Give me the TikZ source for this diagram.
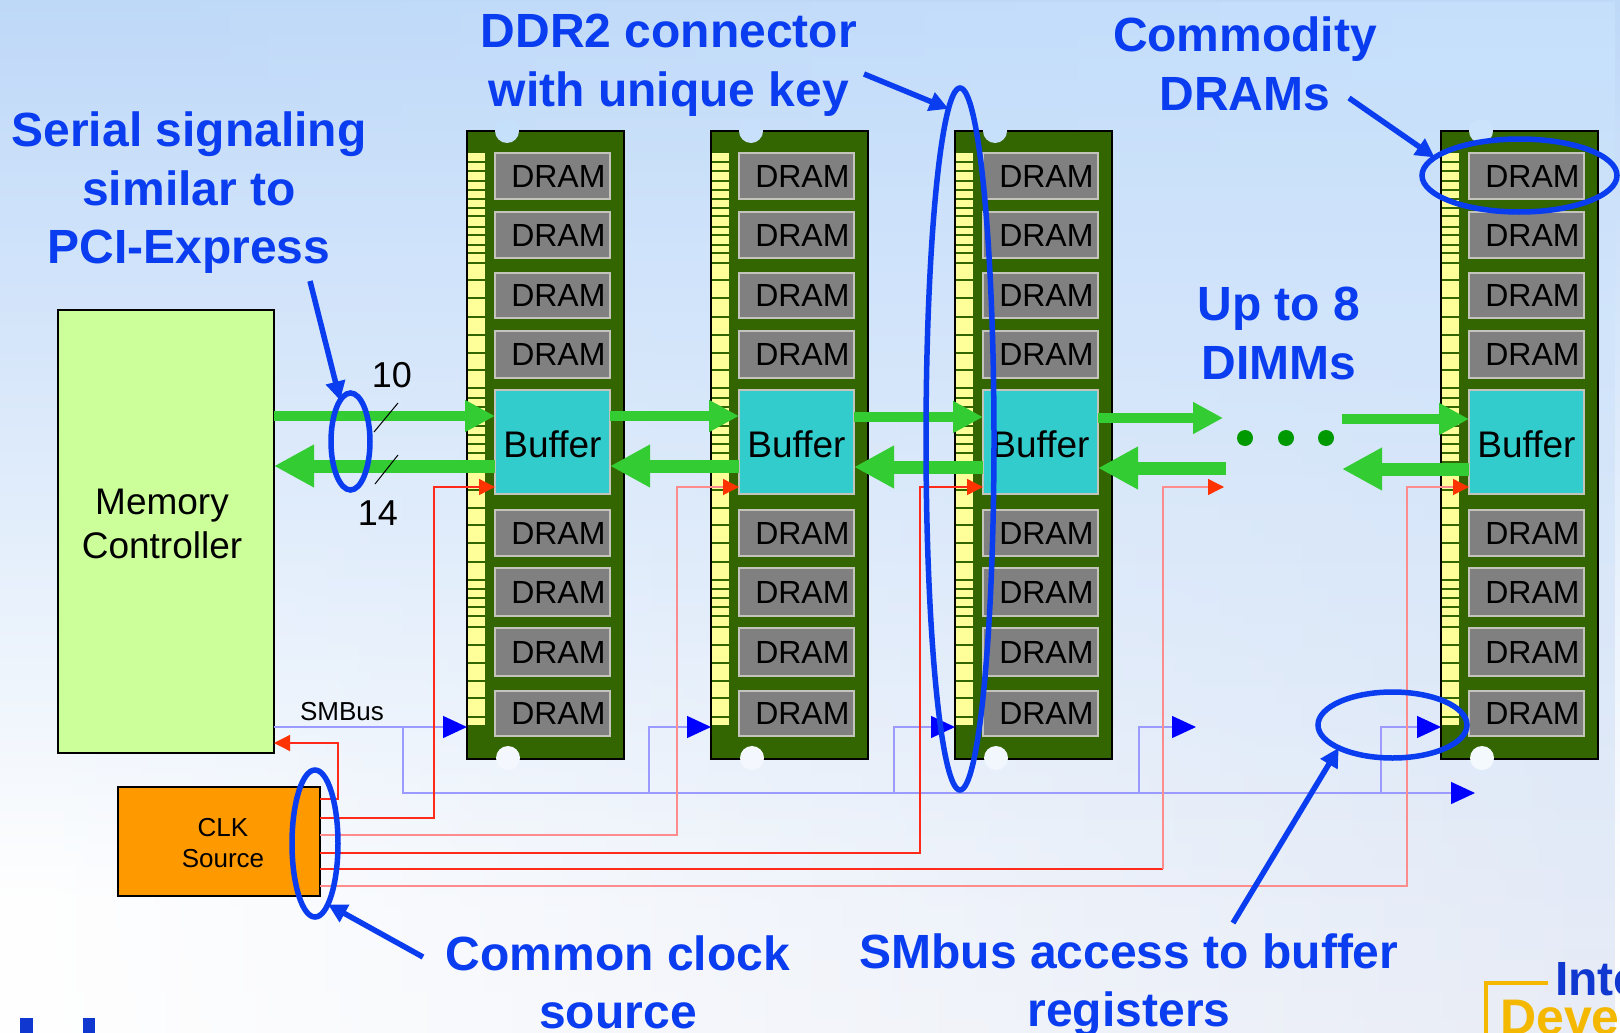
\documentclass[tikz,border=0pt]{standalone}
\usepackage{fontspec}
\setmainfont{Liberation Sans}
\usetikzlibrary{arrows.meta,shapes.geometric,fadings}
\definecolor{callout}{HTML}{0A3CF0}
\definecolor{pcb}{HTML}{336600}
\definecolor{pinyellow}{HTML}{FFFF99}
\definecolor{dramgrey}{HTML}{808080}
\definecolor{dramedge}{HTML}{C4C4BC}
\definecolor{buffteal}{HTML}{33CCCC}
\definecolor{mcgreen}{HTML}{CCFF99}
\definecolor{clkorange}{HTML}{FF9900}
\definecolor{linkgreen}{HTML}{33CC33}
\definecolor{dotgreen}{HTML}{009900}
\definecolor{clkred}{HTML}{FF2A1A}
\definecolor{clkpink}{HTML}{FF8C8C}
\definecolor{smblue}{HTML}{9A9AFF}
\definecolor{smhead}{HTML}{0000FF}
\definecolor{tiporange}{HTML}{FF3300}
\definecolor{logogold}{HTML}{F5B800}
\definecolor{logoblue}{HTML}{1038D0}
\tikzset{
  x=1pt,y=-1pt,
  calltext/.style={text=callout,font=\fontsize{48}{58.5}\bfseries\selectfont,align=center,inner sep=0pt},
  plain/.style={text=black,align=center,inner sep=0pt},
  boxn/.style={draw,anchor=north west,inner sep=0pt,outer sep=0pt},
  dimm/.style={boxn,draw=black,line width=1.2pt,fill=pcb,minimum width=157pt,minimum height=628pt},
  dram/.style={boxn,draw=dramedge,line width=1.2pt,fill=dramgrey,minimum width=115pt,text=black,font=\fontsize{32}{32}\selectfont,text width=106pt,align=right},
  buff/.style={boxn,draw=dramedge,line width=1.2pt,fill=buffteal,minimum width=115pt,minimum height=104pt,text=black,font=\fontsize{37}{37}\selectfont,align=center},
  ring/.style={ellipse,draw=callout,line width=5.5pt,inner sep=0pt,outer sep=0pt,fill=none},
  pointer/.style={draw=callout,line width=5.5pt,-{Triangle[length=19pt,width=19pt]}},
  upa/.style={draw=linkgreen,line width=10pt,-{Triangle[length=30pt,width=30pt]}},
  downa/.style={draw=linkgreen,line width=13pt,-{Triangle[length=40pt,width=40pt]}},
  clka/.style={line width=1.3pt,-{Triangle[length=16pt,width=16pt,color=tiporange]}},
  sma/.style={draw=smblue,line width=1.4pt,-{Triangle[length=24pt,width=22pt,color=smhead]}},
  notch/.style={circle,minimum size=24pt,inner sep=0pt,draw=none},
  slash/.style={draw=black,line width=1pt},
}
\begin{document}
\begin{tikzpicture}
\useasboundingbox (0,0) rectangle (1620,1033);
\begin{scope}
\clip (0,0) rectangle (1620,1033);
% background
\fill[white] (0,0) rectangle (1620,1033);
\shade[top color={rgb,255:red,190;green,216;blue,248},bottom color=white] (0,0) rectangle (1620,900);
\shade[top color={rgb,255:red,198;green,224;blue,252},bottom color={rgb,255:red,232;green,236;blue,246},path fading=west] (0,0) rectangle (1620,1033);

% logo fragments
\fill[logoblue] (20,1018) rectangle (33,1033);
\fill[logoblue] (83,1018) rectangle (95,1033);
\draw[logogold,line width=3.5pt] (1486,1033) -- (1486,983) -- (1548,983);
\node[anchor=base west,inner sep=0pt,text=logoblue,font=\fontsize{48}{48}\bfseries\selectfont] (logoa) at (1555,995) {Inte};
\node[anchor=base west,inner sep=0pt,text=logogold,font=\fontsize{50}{50}\bfseries\selectfont] (logob) at (1500,1034) {Deve};

% memory modules
\foreach \m/\x/\nt/\nb in {1/467/C5E0FB/F4F8FE,2/711/C8E0FB/F4F8FE,3/955/C6E0FC/F2F6FD,4/1441/CBE3FB/F4F9FD}{
  \node[dimm] (m\m) at (\x,131) {};
  \definecolor{nt}{HTML}{\nt}\definecolor{nb}{HTML}{\nb}
  \node[notch,fill=nt] (nt\m) at (\x+40,131) {};
  \node[notch,fill=nb] (nb\m) at (\x+41,758) {};
  \fill[pinyellow] (\x+1,153) rectangle (\x+18,725);
  \foreach \ly in {162,171,181,190,199,208,216,227,235,245,253,263,280,298,317,335,353,370,388,398,407,417,426,435,444,453,462,490,508,525,543,562,580,589,598,607,616,627,645,663,681,698,717}{
    \draw[pcb,line width=1.2pt] (\x+1,\ly) -- (\x+18,\ly);
  }
  \foreach \n/\t/\h in {1/153/46,2/212/46,3/273/45,4/331/47,5/510/46,6/568/48,7/628/48,8/691/45}{
    \node[dram,minimum height=\h pt] (d\m-\n) at (\x+28,\t) {DRAM};
  }
  \node[buff] (b\m) at (\x+28,390) {\raisebox{-15pt}[0pt][0pt]{Buffer}};
}

% controller and clock
\node[boxn,draw=black,line width=1.2pt,fill=mcgreen,minimum width=216pt,minimum height=443pt,plain] (mc) at (58,310) {};
\node[plain,font=\fontsize{37}{44}\selectfont] (mclabel) at (162,524) {Memory\\Controller};
\node[boxn,draw=black,line width=1.2pt,fill=clkorange,minimum width=202pt,minimum height=109pt] (clk) at (118,787) {};
\node[plain,font=\fontsize{26}{31}\selectfont] (clklabel) at (223,843) {CLK\\Source};

% named helpers
\coordinate (gu1) at (0,416);
\coordinate (gu2) at (0,416);
\coordinate (gu3) at (0,417);
\coordinate (gu4) at (0,418);
\coordinate (gd1) at (0,466);
\coordinate (gd2) at (0,466);
\coordinate (gd3) at (0,467);
\coordinate (gapua) at (1223,418);
\coordinate (gapub) at (1342,419);
\coordinate (gapda) at (1226,468);
\coordinate (gapdb) at (1342,469);
\coordinate (sm) at (0,727);
\coordinate (rl) at (0,487);
\coordinate (c1) at (320,799);
\coordinate (c2) at (320,818);
\coordinate (c3) at (320,835);
\coordinate (c4) at (320,853);
\coordinate (c5) at (320,869);
\coordinate (c6) at (320,886);
\coordinate (c5b) at (1163,869);
\coordinate (mcin) at (338,743);
\coordinate (rr1) at (434,487);
\coordinate (rr2) at (677,487);
\coordinate (rr3) at (920,487);
\coordinate (rr4) at (1163,487);
\coordinate (rr6) at (1407,487);
\coordinate (rrend) at (1224,487);
\coordinate (j1) at (403,727);
\coordinate (j2) at (649,793);
\coordinate (j3) at (894,793);
\coordinate (j4) at (1139,793);
\coordinate (j5) at (1381,793);
\coordinate (smgap) at (1196,727);
\coordinate (smend) at (1475,793);

% SMBus
\draw[sma] (mc.east|-sm) -- (m1.west|-sm);
\draw[sma] (j1) |- (smend);
\draw[sma] (j2) |- (m2.west|-sm);
\draw[sma] (j3) |- (m3.west|-sm);
\draw[sma] (j4) |- (smgap);
\draw[sma] (j5) |- (m4.west|-sm);
\node[plain,font=\fontsize{26}{26}\selectfont] (smlabel) at (342,712) {SMBus};

% clock lines
\draw[clka,draw=clkred] (c1) -| (mcin) -- (mc.east|-mcin);
\draw[clka,draw=clkred] (c2) -| (rr1) -- (b1.west|-rl);
\draw[clka,draw=clkpink] (c3) -| (rr2) -- (b2.west|-rl);
\draw[clka,draw=clkred] (c4) -| (rr3) -- (b3.west|-rl);
\draw[line width=1.3pt,draw=clkred] (c5) -- (c5b);
\draw[clka,draw=clkpink] (c5b) -- (rr4) -- (rrend);
\draw[clka,draw=clkpink] (c6) -| (rr6) -- (b4.west|-rl);

% green links
\draw[upa] (mc.east|-gu1) -- (b1.west|-gu1);
\draw[upa] (b1.east|-gu2) -- (b2.west|-gu2);
\draw[upa] (b2.east|-gu3) -- (b3.west|-gu3);
\draw[upa] (b3.east|-gu4) -- (gapua);
\draw[upa] (gapub) -- (b4.west|-gapub);
\draw[downa] (b1.west|-gd1) -- (mc.east|-gd1);
\draw[downa] (b2.west|-gd2) -- (b1.east|-gd2);
\draw[downa] (b3.west|-gd3) -- (b2.east|-gd3);
\draw[downa] (gapda) -- (b3.east|-gapda);
\draw[downa] (b4.west|-gapdb) -- (gapdb);
\foreach \i/\dx in {1/1245,2/1286,3/1326}{
  \fill[dotgreen] (\dx,438) circle [radius=8];
}

% bus width marks
\coordinate (s1a) at (374,432);
\coordinate (s1b) at (398,403);
\coordinate (s2a) at (375,484);
\coordinate (s2b) at (398,455);
\draw[slash] (s1a) -- (s1b);
\draw[slash] (s2a) -- (s2b);
\node[plain,font=\fontsize{36}{36}\selectfont] (n10) at (392,375) {10};
\node[plain,font=\fontsize{36}{36}\selectfont] (n14) at (378,513) {14};

% rings
\node[ring,minimum width=39pt,minimum height=97pt] (r1) at (350.5,441.5) {};
\node[ring,minimum width=68pt,minimum height=702pt] (r2) at (960,439) {};
\node[ring,minimum width=195pt,minimum height=73pt] (r3) at (1519.5,175.5) {};
\node[ring,minimum width=46pt,minimum height=147pt] (r4) at (315,843.5) {};
\node[ring,minimum width=149pt,minimum height=66pt] (r5) at (1392.5,725) {};

% callouts
\node[calltext] (t1) at (189,193) {Serial signaling\\similar to\\PCI-Express};
\node[calltext] (t2) at (669,65) {DDR2 connector\\with unique key};
\node[calltext] (t3) at (1245,64) {Commodity\\DRAMs};
\node[calltext] (t4) at (1279,333.5) {Up to 8\\DIMMs};
\node[calltext] (t5) at (618,982.5) {Common clock\\source};
\node[calltext] (t6) at (1129,985) {SMbus access to buffer\\registers};

\coordinate (p1) at (310,281);
\coordinate (p2) at (864,74);
\coordinate (p3) at (1349,98);
\coordinate (p4) at (423,957);
\coordinate (p5) at (1233,923);
\draw[pointer] (p1) -- (r1);
\draw[pointer] (p2) -- (r2.92.4);
\draw[pointer] (p3) -- (r3.168);
\draw[pointer] (p4) -- (r4.-78);
\draw[pointer] (p5) -- (r5.203);
\end{scope}
\end{tikzpicture}
\end{document}
